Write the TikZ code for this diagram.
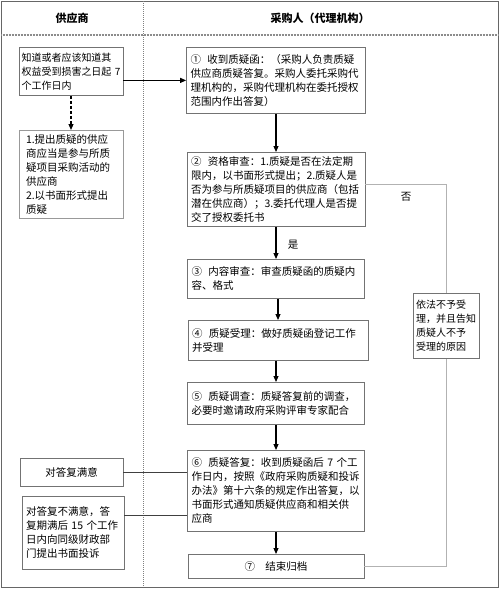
\documentclass[tikz,border=0pt]{standalone}
\usepackage{fontspec}
\newfontfamily\cjk{Noto Sans CJK SC}
\usetikzlibrary{arrows.meta}
\begin{document}
\begin{tikzpicture}[x=1pt,y=-1pt,
  box/.style={draw=black!55, line width=0.8pt, fill=white, inner xsep=4pt, inner ysep=2pt,
    align=left, anchor=north, font=\cjk\fontsize{10.5}{14}\selectfont},
  hdr/.style={font=\cjk\bfseries\fontsize{11}{13}\selectfont},
  lbl/.style={font=\cjk\fontsize{10.5}{13}\selectfont},
  arr/.style={line width=1.1pt, -{Triangle[length=6pt,width=5pt]}},
  darr/.style={line width=1.1pt, dash pattern=on 3pt off 2pt, -{Triangle[length=6pt,width=5pt]}},
  gline/.style={draw=black!30, line width=0.9pt},
  kline/.style={draw=black!75, line width=0.9pt}]
\useasboundingbox (0,0) rectangle (500,589);
\fill[white] (0,0) rectangle (500,589);
% frame and dividers
\draw[black!60, line width=1pt] (1,1) rectangle (498,587);
\draw[black!45, line width=1.2pt, dash pattern=on 1pt off 0.5pt] (1,35) -- (498,35);
\draw[black!50, line width=0.6pt, dash pattern=on 1pt off 1pt] (143,1) -- (143,587);
% headers
\node[hdr] (hl) at (72,18) {供应商};
\node[hdr] (hr) at (320,18) {采购人（代理机构）};
% supplier column
\node[box, inner xsep=2.5pt, text width=99pt, minimum height=48pt, font=\cjk\fontsize{10}{14}\selectfont] (A) at (71,47)
  {知道或者应该知道其\\权益受到损害之日起 7\\个工作日内};
\node[box, draw=black!40, text width=90pt, minimum height=88pt, inner xsep=7pt] (B) at (71,130)
  {1.提出质疑的供应\\商应当是参与所质\\疑项目采购活动的\\供应商\\2.以书面形式提出\\质疑};
\node[box, align=center, text width=95pt, minimum height=28pt] (sat) at (71.5,458) {对答复满意};
\node[box, text width=94pt, minimum height=73pt] (unsat) at (73,496)
  {对答复不满意，答\\复期满后 15 个工作\\日内向同级财政部\\门提出书面投诉};
% purchaser column
\node[box, text width=171pt, minimum height=66pt] (s1) at (276,47)
  {①\hspace{0.6em}收到质疑函：（采购人负责质疑\\供应商质疑答复。采购人委托采购代\\理机构的，采购代理机构在委托授权\\范围内作出答复）};
\node[box, text width=170pt, minimum height=74pt] (s2) at (276,152)
  {②\hspace{0.6em}资格审查：1.质疑是否在法定期\\限内，以书面形式提出；2.质疑人是\\否为参与所质疑项目的供应商（包括\\潜在供应商）；3.委托代理人是否提\\交了授权委托书};
\node[box, text width=169pt, minimum height=39pt] (s3) at (276,259)
  {③\hspace{0.6em}内容审查：审查质疑函的质疑内\\容、格式};
\node[box, text width=172pt, minimum height=40pt] (s4) at (278,320)
  {④\hspace{0.6em}质疑受理：做好质疑函登记工作\\并受理};
\node[box, text width=169pt, minimum height=42pt] (s5) at (276,382)
  {⑤\hspace{0.6em}质疑调查：质疑答复前的调查，\\必要时邀请政府采购评审专家配合};
\node[box, text width=169pt, minimum height=81pt] (s6) at (276,450)
  {⑥\hspace{0.6em}质疑答复：收到质疑函后 7 个工\\作日内，按照《政府采购质疑和投诉\\办法》第十六条的规定作出答复，以\\书面形式通知质疑供应商和相关供\\应商};
\node[box, align=center, text width=168pt, minimum height=24pt] (s7) at (276,554)
  {⑦\hspace{1em}结束归档};
\node[box, inner xsep=3pt, text width=60pt, minimum height=65pt, font=\cjk\fontsize{10}{14}\selectfont] (no) at (446,293)
  {依法不予受\\理，并且告知\\质疑人不予\\受理的原因};
% connectors
\draw[arr] (s1.west -| A.east) -- (s1.west);
\draw[darr] (A.south) -- (B.north);
\draw[arr] (s1.south) -- (s2.north);
\draw[arr] (s2.south) -- (s3.north);
\draw[arr] (s4.north |- s3.south) -- (s4.north);
\draw[arr] (s4.south -| s5.north) -- (s5.north);
\draw[arr] (s5.south) -- (s6.north);
\draw[arr] (s6.south) -- (s7.north);
\coordinate (turn) at (446,184);
\draw[gline] (turn -| s2.east) -- (turn) -- (no.north);
\draw[gline] (no.south) |- (s7.east);
\draw[kline] (sat.east) -- (sat.east -| s6.west);
\coordinate (u) at (124,515);
\draw[kline] (u) -- (u -| s6.west);
% labels
\node[lbl] (nolbl) at (406,197) {否};
\node[lbl] (yeslbl) at (293,245) {是};
\end{tikzpicture}
\end{document}
